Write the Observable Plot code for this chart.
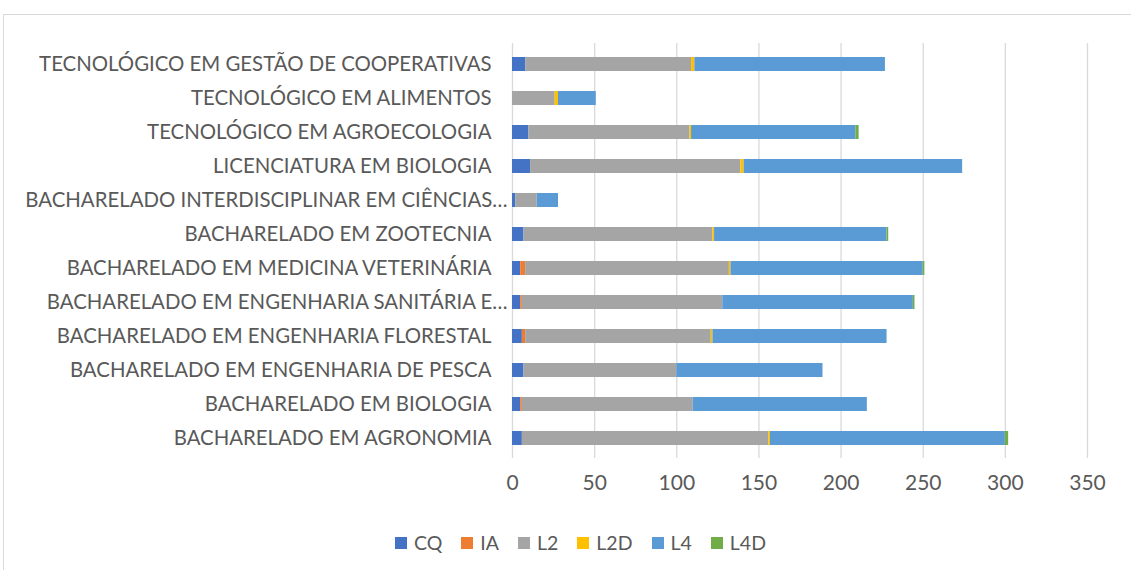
<!DOCTYPE html>
<html>
<head>
<meta charset="utf-8">
<script src="https://cdn.jsdelivr.net/npm/d3@7"></script>
<script src="https://cdn.jsdelivr.net/npm/@observablehq/plot@0.6"></script>
<style>
  html, body { margin: 0; padding: 0; background: #fff; }
  #wrap { position: relative; width: 1131px; height: 570px; overflow: hidden; font-family: Lato, "Open Sans", sans-serif; }
  #frame { position: absolute; left: 3px; top: 14px; width: 1200px; height: 600px; border-left: 1px solid #d9d9d9; border-top: 1px solid #d9d9d9; }
  #chart { position: absolute; left: 0; top: 0; }
  #legend { position: absolute; left: 0; top: 531px; width: 1180px; display: flex; justify-content: center; }
  .lg-swatches { font-family: Lato, sans-serif !important; font-size: 19.5px !important; color: #595959 !important; min-height: 0 !important; margin: 0 !important; }
  .lg-swatch { margin-right: 19px !important; }
  .lg-swatch > svg { margin-right: 7px !important; }
</style>
</head>
<body>
<div id="wrap">
  <div id="frame"></div>
  <div id="chart"></div>
  <div id="legend"></div>
</div>
<script>
// Categories, top to bottom as displayed
const categories = [
  "TECNOLÓGICO EM GESTÃO DE COOPERATIVAS",
  "TECNOLÓGICO EM ALIMENTOS",
  "TECNOLÓGICO EM AGROECOLOGIA",
  "LICENCIATURA EM BIOLOGIA",
  "BACHARELADO INTERDISCIPLINAR EM CIÊNCIAS…",
  "BACHARELADO EM ZOOTECNIA",
  "BACHARELADO EM MEDICINA VETERINÁRIA",
  "BACHARELADO EM ENGENHARIA SANITÁRIA E…",
  "BACHARELADO EM ENGENHARIA FLORESTAL",
  "BACHARELADO EM ENGENHARIA DE PESCA",
  "BACHARELADO EM BIOLOGIA",
  "BACHARELADO EM AGRONOMIA"
];
const seriesNames = ["CQ", "IA", "L2", "L2D", "L4", "L4D"];
const seriesColors = ["#4472c4", "#ed7d31", "#a5a5a5", "#ffc000", "#5b9bd5", "#70ad47"];

const CQ  = [8, 0, 10, 11, 2, 7, 5, 5, 6, 7, 5, 6];
const IA  = [0, 0, 0, 0, 0, 0, 3, 1, 2, 0, 1, 0];
const L2  = [101, 26, 98, 128, 13, 115, 124, 122, 113, 93, 104, 150];
const L2D = [2, 2, 1, 2, 0, 1, 1, 0, 1, 0, 0, 1];
const L4  = [116, 23, 100, 133, 13, 105, 117, 116, 106, 89, 106, 143];
const L4D = [0, 0, 2, 0, 0, 1, 1, 1, 0, 0, 0, 2];

const xTicks = [0, 50, 100, 150, 200, 250, 300, 350];

const seriesValues = [CQ, IA, L2, L2D, L4, L4D];
const data = [];
categories.forEach((c, i) => {
  seriesNames.forEach((s, j) => {
    data.push({course: c, series: s, value: seriesValues[j][i]});
  });
});

const plot = Plot.plot({
  width: 1131,
  height: 505,
  marginLeft: 512,
  marginRight: 44,
  marginTop: 43,
  marginBottom: 47,
  style: {fontFamily: "Lato, 'Open Sans', sans-serif", color: "#595959", background: "transparent", overflow: "visible"},
  x: {domain: [0, 350], ticks: xTicks, label: null},
  y: {domain: categories, paddingInner: 0.6, paddingOuter: 0.3, label: null},
  color: {domain: seriesNames, range: seriesColors},
  marks: [
    Plot.ruleX(xTicks, {stroke: "#d9d9d9", strokeWidth: 1.3}),
    Plot.barX(data, Plot.stackX({x: "value", y: "course", fill: "series", order: seriesNames})),
    Plot.axisX({ticks: xTicks, tickSize: 0, tickPadding: 17, fontSize: 21, fill: "#595959", label: null}),
    Plot.axisY({tickSize: 0, tickPadding: 21, fontSize: 21, fill: "#595959", label: null})
  ]
});
document.getElementById("chart").appendChild(plot);

// slightly narrower letterforms (Calibri-like); truncated labels overhang like the original
plot.querySelectorAll('g[aria-label="y-axis tick label"] text').forEach(t => {
  const w = t.getComputedTextLength();
  t.setAttribute("textLength", (w * 0.97).toFixed(1));
  t.setAttribute("lengthAdjust", "spacingAndGlyphs");
  if (t.textContent.endsWith("…")) t.setAttribute("dx", "16");
});

const lg = plot.legend("color", {className: "lg", swatchSize: 12});
document.getElementById("legend").appendChild(lg);
</script>
</body>
</html>
